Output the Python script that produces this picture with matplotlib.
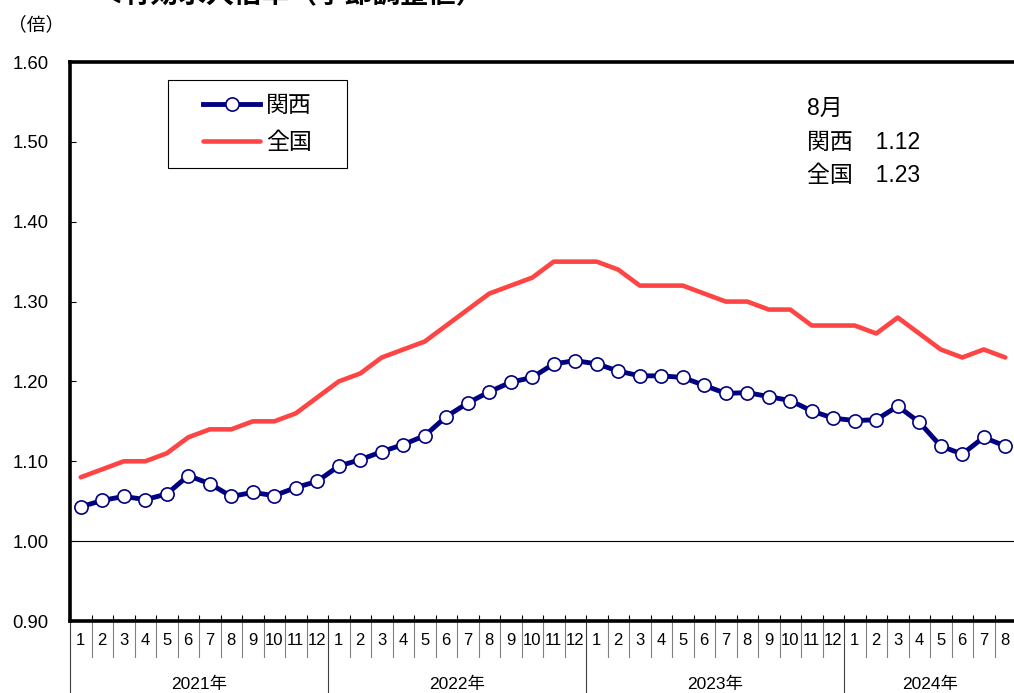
import matplotlib.pyplot as plt
from matplotlib.patches import Rectangle

plt.rcParams['font.family'] = ['Liberation Sans', 'Noto Sans CJK JP']

# data: 2021/1 .. 2024/8
years = ['2021年', '2022年', '2023年', '2024年']
months_per_year = [12, 12, 12, 8]
kansai = [1.043, 1.051, 1.056, 1.052, 1.059, 1.082, 1.072, 1.056, 1.061, 1.057, 1.067, 1.075,
          1.094, 1.102, 1.112, 1.121, 1.132, 1.156, 1.173, 1.187, 1.199, 1.205, 1.222, 1.226,
          1.222, 1.213, 1.207, 1.207, 1.205, 1.195, 1.185, 1.186, 1.181, 1.176, 1.163, 1.154,
          1.151, 1.152, 1.169, 1.149, 1.119, 1.109, 1.130, 1.119]
zenkoku = [1.08, 1.09, 1.10, 1.10, 1.11, 1.13, 1.14, 1.14, 1.15, 1.15, 1.16, 1.18,
           1.20, 1.21, 1.23, 1.24, 1.25, 1.27, 1.29, 1.31, 1.32, 1.33, 1.35, 1.35,
           1.35, 1.34, 1.32, 1.32, 1.32, 1.31, 1.30, 1.30, 1.29, 1.29, 1.27, 1.27,
           1.27, 1.26, 1.28, 1.26, 1.24, 1.23, 1.24, 1.23]
yticks = [0.90, 1.00, 1.10, 1.20, 1.30, 1.40, 1.50, 1.60]

month_labels = []
for n in months_per_year:
    month_labels += [str(m) for m in range(1, n + 1)]
x = list(range(len(kansai)))

fig = plt.figure(figsize=(10.14, 6.93), dpi=100)
ax = fig.add_axes([70 / 1014, 72 / 693, 946 / 1014, 559 / 693])

ax.plot(x, zenkoku, color='#FF4444', lw=3.3, solid_capstyle='round', label='全国', zorder=3)
ax.plot(x, kansai, color='#000080', lw=3.5, marker='o', ms=9.5, mfc='white',
        mec='#000080', mew=1.2, label='関西', zorder=4)
ax.axhline(1.0, color='black', lw=0.8, zorder=1)

ax.set_xlim(-0.5, len(x) - 0.5)
ax.set_ylim(0.90, 1.60)
ax.set_yticks(yticks)
ax.set_yticklabels([f'{v:.2f}' for v in yticks], fontsize=13.3)
ax.tick_params(axis='y', direction='in', length=4, width=0.8, pad=15.5)
ax.set_xticks([i - 0.5 for i in range(len(x) + 1)])
ax.set_xticklabels([])
ax.tick_params(axis='x', direction='in', length=4, width=0.8)

for s in ['left', 'bottom', 'top']:
    ax.spines[s].set_linewidth(2.6)
ax.spines['right'].set_visible(False)

# month / year table under the axis
tr = ax.get_xaxis_transform()
for i, lab in enumerate(month_labels):
    ax.text(i, -0.034, lab, transform=tr, ha='center', va='center', fontsize=12)
start = 0
for yr, n in zip(years, months_per_year):
    ax.plot([start - 0.5, start - 0.5], [0, -0.129], transform=tr, color='#404040',
            lw=0.8, clip_on=False)
    for k in range(1, n):
        ax.plot([start + k - 0.5] * 2, [0, -0.064], transform=tr, color='#808080',
                lw=0.8, clip_on=False)
    ax.text(start + n / 2 - 0.5, -0.113, yr, transform=tr, ha='center', va='center',
            fontsize=12.5)
    start += n
ax.plot([start - 0.5] * 2, [0, -0.064], transform=tr, color='#808080', lw=0.8, clip_on=False)

# legend
ax.add_patch(Rectangle((0.1036, 0.8104), 0.1892, 0.1574, transform=ax.transAxes,
                       fill=False, edgecolor='black', lw=0.8, zorder=5))
h, l = ax.get_legend_handles_labels()
ax.legend(h[::-1], l[::-1], loc='center', bbox_to_anchor=(0.1982, 0.8891), frameon=False,
          fontsize=16.5, handlelength=2.5, handletextpad=0.25, labelspacing=0.65)

# latest values
ax.text(0.779, 0.9177, '8月', transform=ax.transAxes, va='center', fontsize=16.5)
ax.text(0.779, 0.8569, '関西\u30001.12', transform=ax.transAxes, va='center', fontsize=16.5)
ax.text(0.779, 0.7961, '全国\u30001.23', transform=ax.transAxes, va='center', fontsize=16.5)

fig.text(8 / 1014, 1 - 25 / 693, '（倍）', va='center', ha='left', fontsize=13.5)
fig.text(95 / 1014, 1 - 3 / 693, '＜有効求人倍率（季節調整値）', va='baseline', ha='left',
         fontsize=20, fontweight='bold')

fig.savefig('out.png', dpi=100)
